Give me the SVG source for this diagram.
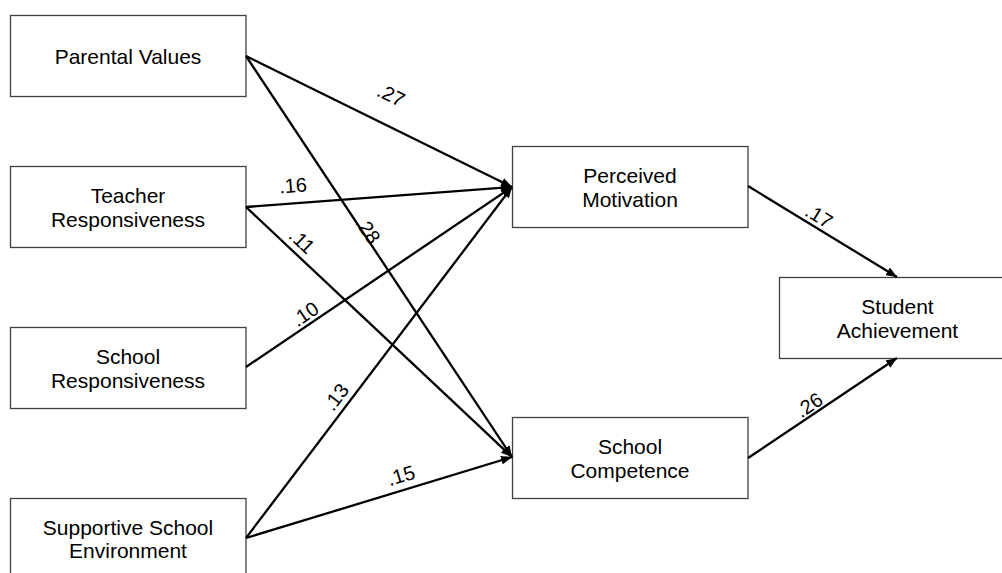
<svg xmlns="http://www.w3.org/2000/svg" width="1002" height="573" viewBox="0 0 1002 573">
<style>
.box{fill:#fff;stroke:#404040;stroke-width:1.3}
.t{font-family:"Liberation Sans",Arial,sans-serif;font-size:21px;fill:#000;text-anchor:middle}
.e{stroke:#000;stroke-width:2.3;fill:none;marker-end:url(#ah)}
.l{font-family:"Liberation Sans",Arial,sans-serif;font-size:20px;fill:#000;text-anchor:middle}
</style>
<defs>
<marker id="ah" viewBox="0 0 10 8" refX="10" refY="4" markerWidth="11" markerHeight="9" markerUnits="userSpaceOnUse" orient="auto">
<path d="M0,0 L10,4 L0,8 z" fill="#000"/>
</marker>
</defs>
<rect width="1002" height="573" fill="#fff"/>
<g id="pv"><rect class="box" x="10.5" y="15.5" width="235.5" height="81"/><text class="t" x="128" y="64">Parental Values</text></g>
<g id="tr"><rect class="box" x="10.5" y="166.5" width="235.5" height="81"/><text class="t" x="128" y="202.5">Teacher</text><text class="t" x="128" y="227">Responsiveness</text></g>
<g id="sr"><rect class="box" x="10.5" y="327.5" width="235.5" height="81"/><text class="t" x="128" y="363.5">School</text><text class="t" x="128" y="388">Responsiveness</text></g>
<g id="sse"><rect class="box" x="10.5" y="498.5" width="235.5" height="81"/><text class="t" x="128" y="534.5">Supportive School</text><text class="t" x="128" y="558">Environment</text></g>
<g id="pm"><rect class="box" x="512.5" y="146.5" width="235.5" height="81"/><text class="t" x="630" y="182.5">Perceived</text><text class="t" x="630" y="207">Motivation</text></g>
<g id="sc"><rect class="box" x="512.5" y="417.5" width="235.5" height="81"/><text class="t" x="630" y="453.5">School</text><text class="t" x="630" y="478">Competence</text></g>
<g id="sa"><rect class="box" x="779.5" y="277.5" width="240" height="81"/><text class="t" x="897.5" y="313.5">Student</text><text class="t" x="897.5" y="338">Achievement</text></g>
<g id="connectors">
<line class="e" x1="246" y1="56" x2="512" y2="187"/>
<line class="e" x1="246" y1="56" x2="512" y2="457"/>
<line class="e" x1="246" y1="207" x2="512" y2="187"/>
<line class="e" x1="246" y1="207" x2="512" y2="457"/>
<line class="e" x1="246" y1="367" x2="512" y2="187"/>
<line class="e" x1="246" y1="538" x2="512" y2="187"/>
<line class="e" x1="246" y1="538" x2="512" y2="457"/>
<line class="e" x1="748" y1="186" x2="897" y2="277"/>
<line class="e" x1="748" y1="458" x2="897" y2="358"/>
<text class="l" transform="translate(391,95) rotate(26.2)" y="7">.27</text>
<text class="l" transform="translate(368,230) rotate(56.4)" y="7">.28</text>
<text class="l" transform="translate(293,185.5) rotate(-4.3)" y="7">.16</text>
<text class="l" transform="translate(302,241) rotate(43.2)" y="7">.11</text>
<text class="l" transform="translate(305,314) rotate(-34.1)" y="7">.10</text>
<text class="l" transform="translate(336,397) rotate(-52.8)" y="7">.13</text>
<text class="l" transform="translate(401,475.5) rotate(-16.9)" y="7">.15</text>
<text class="l" transform="translate(819,216) rotate(31.4)" y="7">.17</text>
<text class="l" transform="translate(809,405) rotate(-33.9)" y="7">.26</text>
</g>
</svg>
